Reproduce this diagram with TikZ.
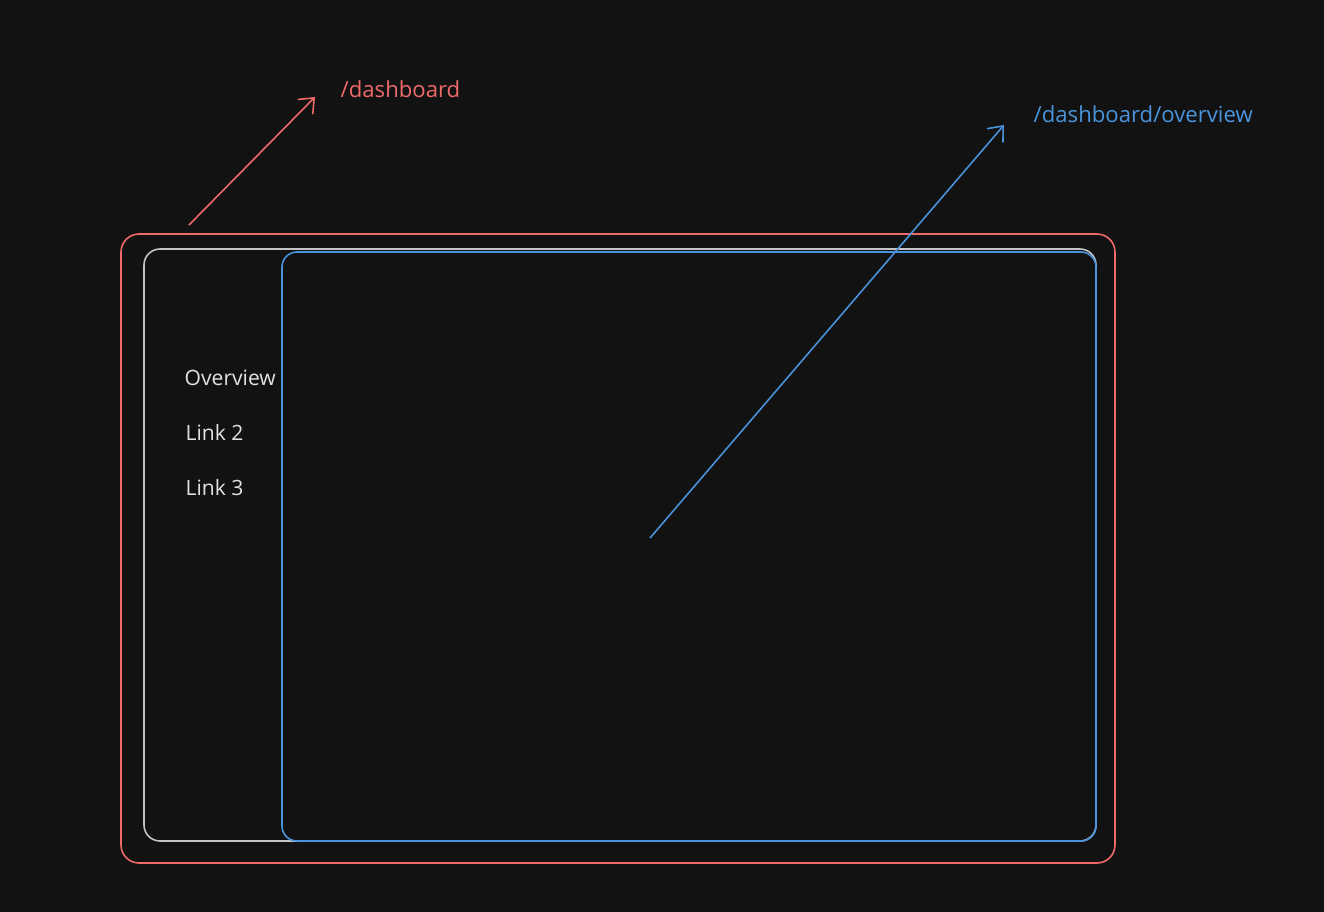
\documentclass[tikz,border=0pt]{standalone}
\usepackage{fontspec}
\setmainfont{Open Sans}
\usetikzlibrary{arrows.meta}
\definecolor{bg}{HTML}{121212}
\definecolor{routered}{HTML}{F06A6A}
\definecolor{routeblue}{HTML}{4A94DC}
\definecolor{sidegray}{HTML}{C4C4C4}
\definecolor{linktext}{HTML}{E2E2E2}

\begin{document}
\begin{tikzpicture}[x=1cm,y=-1cm,
    frame/.style={draw, line width=0.45pt, inner sep=0pt, outer sep=0pt},
    link/.style={anchor=west, text=linktext, font=\fontsize{6pt}{7pt}\selectfont, inner sep=0pt},
    route/.style={anchor=west, font=\fontsize{6.3pt}{7pt}\selectfont, inner sep=0pt},
    pointer/.style={line width=0.45pt, -{Straight Barb[length=3.6pt,width=6pt]}}]
\fill[bg] (0,0) rectangle (13.24,9.12);
\useasboundingbox (0,0) rectangle (13.24,9.12);
    \begin{scope}[shift={(0,0)}]
\node[frame, routered, rounded corners=0.18cm, minimum width=9.94cm, minimum height=6.29cm] (layout) at (6.18,5.485) {};
\node[frame, sidegray, rounded corners=0.16cm, minimum width=9.52cm, minimum height=5.92cm] (sidebar) at (6.20,5.45) {};
\node[frame, routeblue, rounded corners=0.15cm, minimum width=8.14cm, minimum height=5.89cm] (page) at (6.89,5.465) {};
\node[link] (overview) at (1.84,3.78) {Overview};
\node[link] (link2) at (1.85,4.32) {Link 2};
\node[link] (link3) at (1.85,4.88) {Link 3};
\node[route, text=routered] (dash) at (3.40,0.89) {/dashboard};
\node[route, text=routeblue] (dashover) at (10.33,1.14) {/dashboard/overview};
\coordinate (redtail) at (1.89,2.25);
\coordinate (redtip) at (3.15,0.97);
\coordinate (bluetail) at (6.50,5.38);
\coordinate (bluetip) at (10.04,1.25);
\draw[pointer, routered] (redtail) -- (redtip);
\draw[pointer, routeblue] (bluetail) -- (bluetip);
\end{scope}
\end{tikzpicture}
\end{document}
